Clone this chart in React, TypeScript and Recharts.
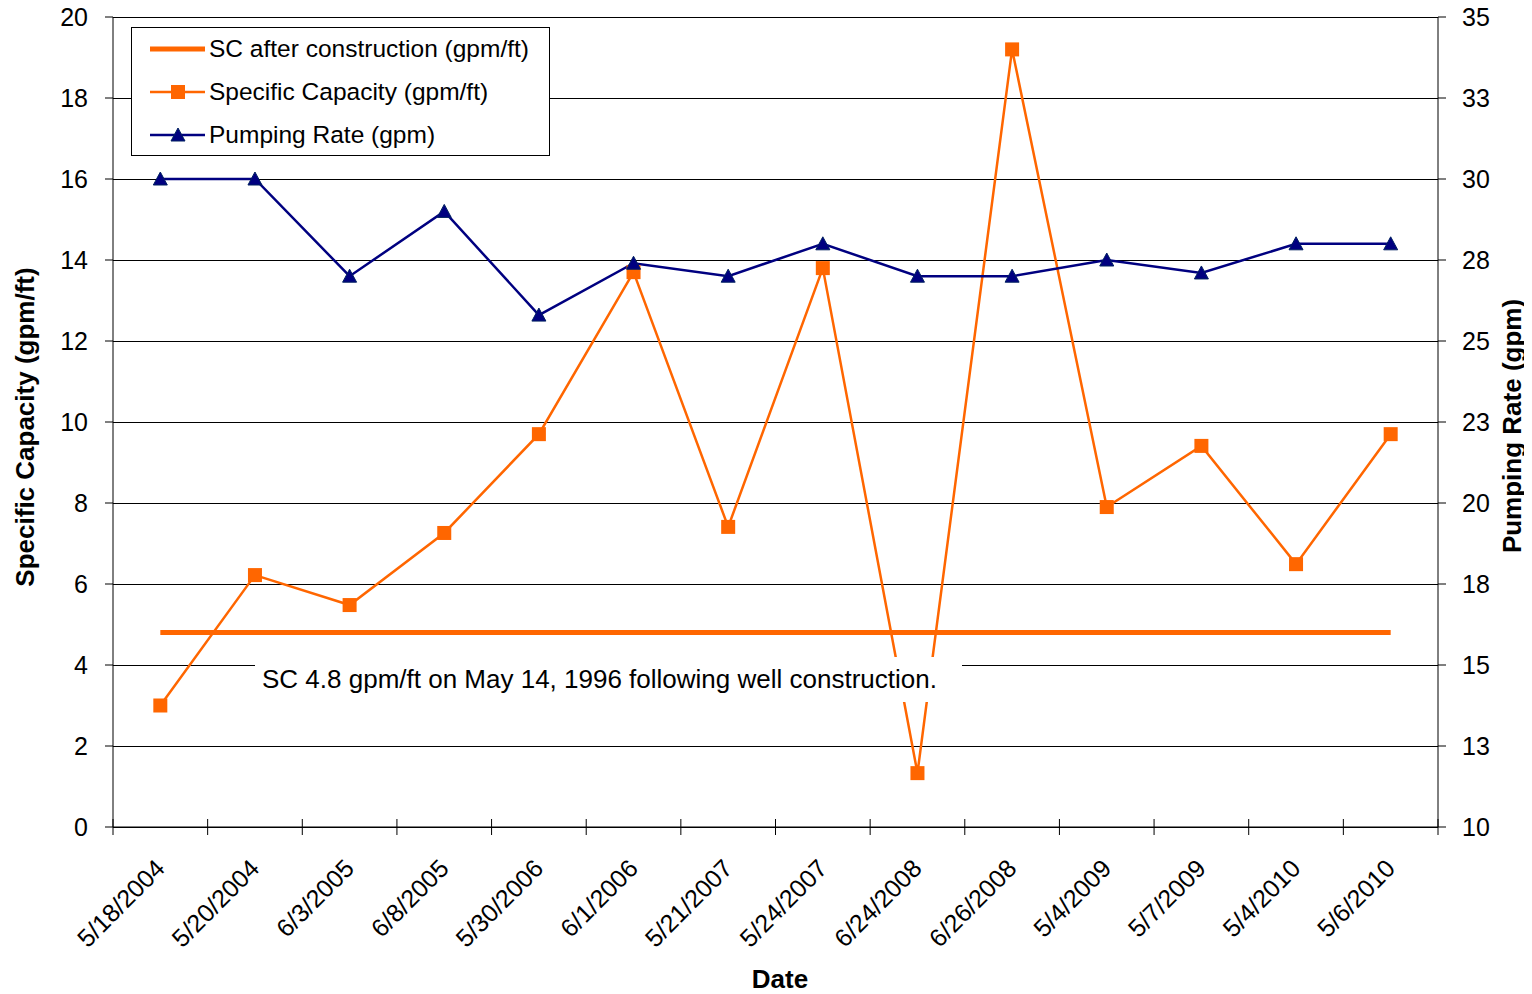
// Specific capacity and pumping rate per test date, with the post-construction baseline.
import React from "react";
import {
  LineChart,
  Line,
  XAxis,
  YAxis,
  CartesianGrid,
  Legend,
} from "recharts";

const dates = [
  "5/18/2004",
  "5/20/2004",
  "6/3/2005",
  "6/8/2005",
  "5/30/2006",
  "6/1/2006",
  "5/21/2007",
  "5/24/2007",
  "6/24/2008",
  "6/26/2008",
  "5/4/2009",
  "5/7/2009",
  "5/4/2010",
  "5/6/2010",
];

const specificCapacity = [
  3.0, 6.22, 5.48, 7.26, 9.7, 13.7, 7.41, 13.8, 1.33, 19.2, 7.9, 9.41, 6.49, 9.7,
];

const pumpingRate = [
  30, 30, 27, 29, 25.8, 27.4, 27, 28, 27, 27, 27.5, 27.1, 28, 28,
];

const scAfterConstruction = 4.8;

const leftTicks = [0, 2, 4, 6, 8, 10, 12, 14, 16, 18, 20];
const rightTicks = [10, 12.5, 15, 17.5, 20, 22.5, 25, 27.5, 30, 32.5, 35];

const ORANGE = "#FF6600";
const NAVY = "#000080";
const FONT = "'Liberation Sans', Arial, sans-serif";

const W = 1532;
const H = 994;
const PLOT_LEFT = 113;
const PLOT_RIGHT = 1438;
const HALF_BAND = (PLOT_RIGHT - PLOT_LEFT) / dates.length / 2;

const data = dates.map((d, i) => ({
  date: d,
  sc: scAfterConstruction,
  capacity: specificCapacity[i],
  pumping: pumpingRate[i],
}));

const SquareDot = (props: any) => {
  const { cx, cy, index } = props;
  if (cx == null || cy == null) return <g key={`s${index}`} />;
  return (
    <rect key={`s${index}`} x={cx - 7} y={cy - 7} width={14} height={14} fill={ORANGE} />
  );
};

const TriangleDot = (props: any) => {
  const { cx, cy, index } = props;
  if (cx == null || cy == null) return <g key={`t${index}`} />;
  return (
    <polygon
      key={`t${index}`}
      points={`${cx},${cy - 7} ${cx + 7},${cy + 6} ${cx - 7},${cy + 6}`}
      fill={NAVY}
      stroke="#002060"
      strokeWidth={1}
    />
  );
};

const DateTick = (props: any) => {
  const { x, y, payload, index } = props;
  return (
    <g>
      <line x1={x - HALF_BAND} y1={y - 8} x2={x - HALF_BAND} y2={y + 8} stroke="#000" />
      {index === dates.length - 1 && (
        <line x1={x + HALF_BAND} y1={y - 8} x2={x + HALF_BAND} y2={y + 8} stroke="#000" />
      )}
      <text
        x={x + 6}
        y={y + 43}
        textAnchor="end"
        transform={`rotate(-45, ${x + 6}, ${y + 43})`}
        fontSize={25}
        fontFamily={FONT}
        fill="#000"
      >
        {payload.value}
      </text>
    </g>
  );
};

const GridLine = (props: any) => {
  const { x1, y1, x2, y2, index } = props;
  return (
    <line
      key={`g${index}`}
      x1={x1}
      y1={y1}
      x2={x2}
      y2={y2}
      stroke="#000"
      strokeWidth={1}
      shapeRendering="crispEdges"
    />
  );
};

const legendItems = [
  { name: "SC after construction (gpm/ft)", color: ORANGE, width: 5, marker: "none" },
  { name: "Specific Capacity (gpm/ft)", color: ORANGE, width: 2.5, marker: "square" },
  { name: "Pumping Rate (gpm)", color: NAVY, width: 2.5, marker: "triangle" },
];

const renderLegend = () => (
  <svg width={419} height={129} style={{ display: "block" }}>
    <rect x={0.5} y={0.5} width={418} height={128} fill="#fff" stroke="#000" />
    {legendItems.map((it, i) => {
      const cy = 22 + i * 43;
      return (
        <g key={it.name}>
          <line x1={19} y1={cy} x2={74} y2={cy} stroke={it.color} strokeWidth={it.width} />
          {it.marker === "square" && (
            <rect x={40} y={cy - 7} width={14} height={14} fill={ORANGE} />
          )}
          {it.marker === "triangle" && (
            <polygon
              points={`47,${cy - 7} 54,${cy + 6} 40,${cy + 6}`}
              fill={NAVY}
              stroke="#002060"
            />
          )}
          <text x={78} y={cy + 8} fontSize={24.5} fontFamily={FONT} fill="#000">
            {it.name}
          </text>
        </g>
      );
    })}
  </svg>
);

const App: React.FC = () => {
  return (
    <div style={{ position: "relative", left: -8, top: -8, width: W, height: H, background: "#fff" }}>
      <LineChart
        width={W}
        height={H}
        data={data}
        margin={{ top: 17, right: 40, bottom: 37, left: 40 }}
      >
        <CartesianGrid
          yAxisId="left"
          vertical={false}
          horizontal={GridLine}
          stroke="#000"
          strokeWidth={1}
        />
        <XAxis
          dataKey="date"
          height={130}
          padding={{ left: HALF_BAND, right: HALF_BAND }}
          axisLine={{ stroke: "#000" }}
          tickLine={false}
          tickSize={0}
          tickMargin={0}
          interval={0}
          tick={DateTick}
          label={{
            content: () => (
              <text
                x={780}
                y={988}
                textAnchor="middle"
                fontSize={26}
                fontWeight="bold"
                fontFamily={FONT}
              >
                Date
              </text>
            ),
          }}
        />
        <YAxis
          yAxisId="left"
          width={73}
          domain={[0, 20]}
          ticks={leftTicks}
          interval={0}
          axisLine={{ stroke: "#000" }}
          tickLine={{ stroke: "#000" }}
          tickSize={8}
          tickMargin={17}
          tick={{ fontSize: 25, fontFamily: FONT, fill: "#000" }}
          label={{
            content: () => (
              <text
                x={34}
                y={427}
                textAnchor="middle"
                transform="rotate(-90, 34, 427)"
                fontSize={26}
                fontWeight="bold"
                fontFamily={FONT}
              >
                Specific Capacity (gpm/ft)
              </text>
            ),
          }}
        />
        <YAxis
          yAxisId="right"
          orientation="right"
          width={54}
          domain={[10, 35]}
          ticks={rightTicks}
          interval={0}
          tickFormatter={(v: number) => String(Math.round(v))}
          axisLine={{ stroke: "#000" }}
          tickLine={{ stroke: "#000" }}
          tickSize={8}
          tickMargin={16}
          tick={{ fontSize: 25, fontFamily: FONT, fill: "#000" }}
          label={{
            content: () => (
              <text
                x={1521}
                y={426}
                textAnchor="middle"
                transform="rotate(-90, 1521, 426)"
                fontSize={26}
                fontWeight="bold"
                fontFamily={FONT}
              >
                Pumping Rate (gpm)
              </text>
            ),
          }}
        />
        <Legend
          layout="vertical"
          align="center"
          verticalAlign="middle"
          content={renderLegend}
          wrapperStyle={{ left: 131, top: 27, width: 419, height: 129 }}
        />
        <Line
          yAxisId="left"
          dataKey="sc"
          name="SC after construction (gpm/ft)"
          stroke={ORANGE}
          strokeWidth={5}
          dot={false}
          activeDot={false}
          isAnimationActive={false}
        />
        <Line
          yAxisId="left"
          dataKey="capacity"
          name="Specific Capacity (gpm/ft)"
          stroke={ORANGE}
          strokeWidth={2.5}
          dot={SquareDot}
          activeDot={false}
          isAnimationActive={false}
        />
        <Line
          yAxisId="right"
          dataKey="pumping"
          name="Pumping Rate (gpm)"
          stroke={NAVY}
          strokeWidth={2.5}
          dot={TriangleDot}
          activeDot={false}
          isAnimationActive={false}
        />
      </LineChart>
      <div
        style={{
          position: "absolute",
          left: 255,
          top: 657,
          width: 707,
          height: 45,
          background: "#fff",
          fontFamily: FONT,
          fontSize: 26,
          lineHeight: "45px",
          paddingLeft: 7,
          boxSizing: "border-box",
          color: "#000",
          whiteSpace: "nowrap",
        }}
      >
        SC 4.8 gpm/ft on May 14, 1996 following well construction.
      </div>
    </div>
  );
};

export default App;
